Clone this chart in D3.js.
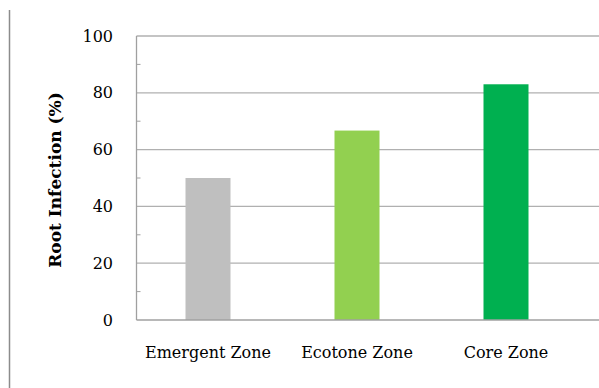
<!DOCTYPE html>
<html>
<head>
<meta charset="utf-8">
<script src="https://cdn.jsdelivr.net/npm/d3@7"></script>
<style>
  html, body { margin: 0; padding: 0; background: #fff; }
  svg { display: block; }
  text { font-family: "DejaVu Serif", "Liberation Serif", serif; fill: #000; }
</style>
</head>
<body>
<div id="chart"></div>
<script>
// ---- data ----
const zones = ['Emergent Zone', 'Ecotone Zone', 'Core Zone'];
const infection = [50, 66.7, 83];
const barColors = ['#bfbfbf', '#92d050', '#00b050'];
const majorTicks = [0, 20, 40, 60, 80, 100];
const minorTicks = [10, 30, 50, 70, 90];
const yTitle = 'Root Infection (%)';

(function () {
    const W = 599, H = 388;
    const svg = d3.select('#chart').append('svg')
        .attr('width', W).attr('height', H);

    // frame line on the left edge
    svg.append('line')
        .attr('x1', 9.5).attr('x2', 9.5).attr('y1', 10).attr('y2', H)
        .attr('stroke', '#8c8c8c').attr('stroke-width', 1.5);

    const axisX = 136.5, plotRight = 599;
    const y = d3.scaleLinear().domain([0, 100]).range([320, 36]);
    const x = d3.scaleBand().domain(zones).range([133.5, 580.5])
        .paddingInner(0.698).paddingOuter(0.349);

    // gridlines
    svg.append('g').selectAll('line').data(majorTicks.filter(function (d) { return d > 0; }))
        .enter().append('line')
        .attr('x1', axisX).attr('x2', plotRight)
        .attr('y1', function (d) { return y(d); }).attr('y2', function (d) { return y(d); })
        .attr('stroke', '#b0b0b0').attr('stroke-width', 1.3);

    // bars
    svg.append('g').selectAll('rect').data(zones).enter().append('rect')
        .attr('x', function (d) { return x(d); })
        .attr('width', x.bandwidth())
        .attr('y', function (d, i) { return y(infection[i]); })
        .attr('height', function (d, i) { return y(0) - y(infection[i]); })
        .attr('fill', function (d, i) { return barColors[i]; });

    // y axis: line, inner minor ticks, labels
    const gy = svg.append('g');
    gy.append('line').attr('x1', axisX).attr('x2', axisX).attr('y1', y(100)).attr('y2', y(0))
        .attr('stroke', '#a0a0a0').attr('stroke-width', 1.3);
    gy.selectAll('line.minor').data(minorTicks).enter().append('line')
        .attr('class', 'minor')
        .attr('x1', axisX).attr('x2', axisX + 4)
        .attr('y1', function (d) { return y(d); }).attr('y2', function (d) { return y(d); })
        .attr('stroke', '#a0a0a0').attr('stroke-width', 1);
    gy.selectAll('text').data(majorTicks).enter().append('text')
        .attr('x', 113).attr('y', function (d) { return y(d); })
        .attr('dy', '0.35em').attr('text-anchor', 'end')
        .style('font-size', '16px')
        .text(function (d) { return d; });

    // x axis baseline
    svg.append('line').attr('x1', axisX).attr('x2', plotRight).attr('y1', y(0)).attr('y2', y(0))
        .attr('stroke', '#a0a0a0').attr('stroke-width', 1.3);

    // category labels
    svg.append('g').selectAll('text').data(zones).enter().append('text')
        .attr('x', function (d) { return x(d) + x.bandwidth() / 2; })
        .attr('y', 358)
        .attr('text-anchor', 'middle')
        .style('font-size', '16px')
        .text(function (d) { return d; });

    // y title
    svg.append('text')
        .attr('transform', 'translate(61,180) rotate(-90)')
        .attr('text-anchor', 'middle')
        .style('font-size', '17px').style('font-weight', 'bold')
        .text(yTitle);
})();
</script>
</body>
</html>
